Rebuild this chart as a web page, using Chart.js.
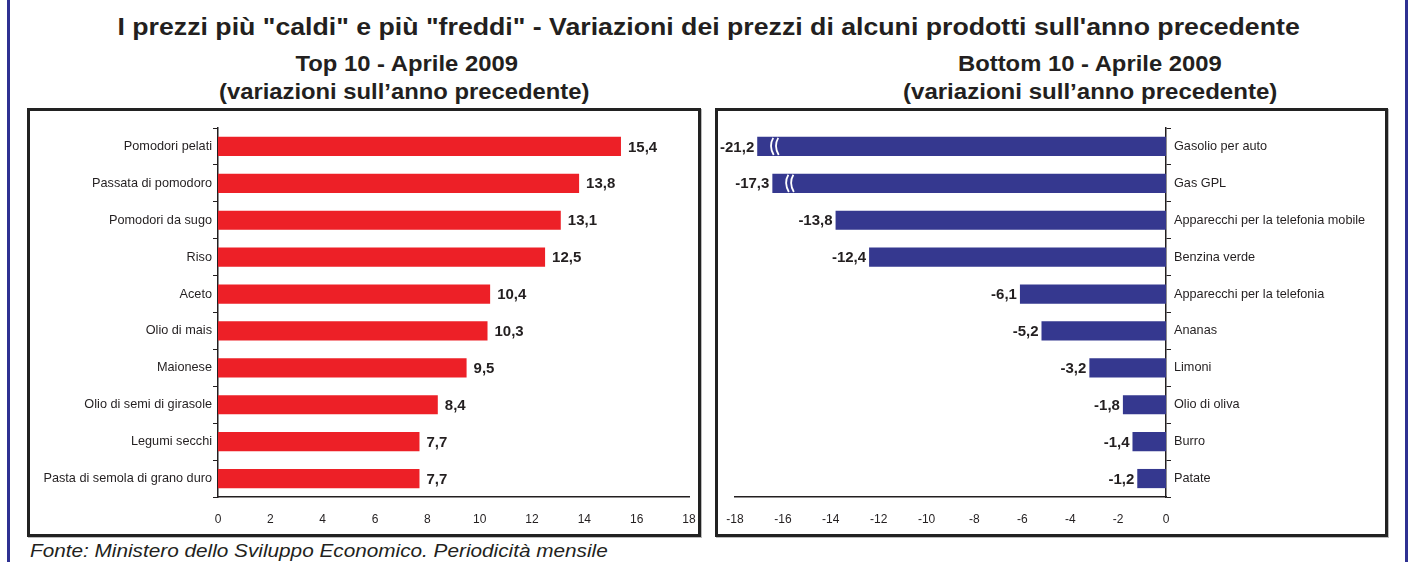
<!DOCTYPE html>
<html><head><meta charset="utf-8">
<script src="https://cdn.jsdelivr.net/npm/chart.js@4.4.0/dist/chart.umd.min.js"></script>
<style>
html,body{margin:0;padding:0;background:#fff;}
body{width:1409px;height:562px;position:relative;overflow:hidden;font-family:"Liberation Sans",Arial,sans-serif;color:#231f20;}
.frame{position:absolute;top:0;bottom:0;width:3px;background:#2e3192;}
.txt{position:absolute;white-space:nowrap;line-height:1;font-weight:bold;}
.box{position:absolute;top:108px;height:429px;border:3px solid #222;box-sizing:border-box;box-shadow:1px 1px 0 #bbb;}
.holder{position:absolute;}
</style></head>
<body>
<div class="frame" style="left:7px"></div>
<div class="frame" style="left:1405px"></div>

<div class="txt" data-cx="708" data-w="1182" style="top:16px;font-size:23.5px">I prezzi più "caldi" e più "freddi" - Variazioni dei prezzi di alcuni prodotti sull'anno precedente</div>
<div class="txt" data-cx="406" data-w="222" style="top:53px;font-size:22px">Top 10 - Aprile 2009</div>
<div class="txt" data-cx="404" data-w="370" style="top:81px;font-size:22px">(variazioni sull’anno precedente)</div>
<div class="txt" data-cx="1090" data-w="264" style="top:53px;font-size:22px">Bottom 10 - Aprile 2009</div>
<div class="txt" data-cx="1090" data-w="374" style="top:81px;font-size:22px">(variazioni sull’anno precedente)</div>
<div class="txt" data-left="30" data-w="578" style="top:542px;font-size:18.6px;font-weight:normal;font-style:italic">Fonte: Ministero dello Sviluppo Economico. Periodicità mensile</div>

<div class="box" style="left:27px;width:674px"></div>
<div class="box" style="left:715px;width:673px"></div>
<div class="holder" style="left:30px;top:111px;width:668px;height:423px"><canvas id="top10" width="668" height="423"></canvas></div>
<div class="holder" style="left:718px;top:111px;width:667px;height:423px"><canvas id="bottom10" width="667" height="423"></canvas></div>

<script>
// ---- data ----
const topCategories = ["Pomodori pelati","Passata di pomodoro","Pomodori da sugo","Riso","Aceto","Olio di mais","Maionese","Olio di semi di girasole","Legumi secchi","Pasta di semola di grano duro"];
const topValues = [15.4, 13.8, 13.1, 12.5, 10.4, 10.3, 9.5, 8.4, 7.7, 7.7];
const bottomCategories = ["Gasolio per auto","Gas GPL","Apparecchi per la telefonia mobile","Benzina verde","Apparecchi per la telefonia","Ananas","Limoni","Olio di oliva","Burro","Patate"];
const bottomValues = [-21.2, -17.3, -13.8, -12.4, -6.1, -5.2, -3.2, -1.8, -1.4, -1.2];
const topTicks = [0, 18, 2];      // min, max, step
const bottomTicks = [-18, 0, 2];  // min, max, step
// axis break on the Bottom 10 chart: bars beyond the break are drawn shortened
const breakAt = -15.7, breakSqueeze = 0.585;
function onBrokenAxis(v){ return v < breakAt ? breakAt - breakSqueeze*Math.sqrt(breakAt - v) : v; }

// ---- style ----
const RED = '#ed2027', BLUE = '#35388f', INK = '#231f20';
const FAMILY = '"Liberation Sans", Arial, sans-serif';
Chart.defaults.font.family = FAMILY;
Chart.defaults.color = INK;

// fit HTML texts
document.querySelectorAll('.txt').forEach(el=>{
  const w = el.offsetWidth, s = (+el.dataset.w)/w;
  if (el.dataset.cx){ el.style.left = (+el.dataset.cx - w/2)+'px'; el.style.transformOrigin='center center'; }
  else { el.style.left = el.dataset.left+'px'; el.style.transformOrigin='left center'; }
  el.style.transform = 'scaleX('+s+')';
});

function fmt(v){ return v.toFixed(1).replace('.', ','); }

function valueLabels(values){
  return {
    id:'valueLabels',
    afterDatasetsDraw(chart){
      const ctx = chart.ctx, meta = chart.getDatasetMeta(0);
      ctx.save();
      ctx.font = 'bold 15px ' + FAMILY;
      ctx.fillStyle = INK;
      ctx.textBaseline = 'middle';
      meta.data.forEach((bar,i)=>{
        const v = values[i];
        if (v >= 0){ ctx.textAlign='left'; ctx.fillText(fmt(v), bar.x + 7, bar.y + 1); }
        else { ctx.textAlign='right'; ctx.fillText(fmt(v), bar.x - 3, bar.y + 1); }
      });
      ctx.restore();
    }
  };
}

const breakMarks = {
  id:'breakMarks',
  afterDatasetsDraw(chart){
    const ctx = chart.ctx, meta = chart.getDatasetMeta(0);
    ctx.save();
    ctx.strokeStyle = '#fff'; ctx.lineWidth = 1.8;
    meta.data.forEach((bar,i)=>{
      if (onBrokenAxis(bottomValues[i]) === bottomValues[i]) return;
      const top = bar.y - bar.height/2 + 1, bot = bar.y + bar.height/2 - 1;
      [14.5, 19.5].forEach(dx=>{
        const x = bar.x + dx;
        ctx.beginPath();
        ctx.moveTo(x + 1.5, top);
        ctx.bezierCurveTo(x - 2.5, top + (bot-top)*0.4, x - 1, bot - (bot-top)*0.3, x + 2, bot);
        ctx.stroke();
      });
    });
    ctx.restore();
  }
};

function axisCommon(){
  return { color: INK, width: 1.5, display: true };
}
function fixX(s){ s.height = 37; s.paddingLeft = 0; s.paddingRight = 0; }

new Chart(document.getElementById('top10'), {
  type:'bar',
  data:{ labels: topCategories, datasets:[{ data: topValues, backgroundColor: RED, categoryPercentage:1, barPercentage:0.52 }] },
  options:{
    indexAxis:'y', responsive:false, animation:false, devicePixelRatio:1,
    layout:{ padding:{ top:17, right:9, left:0, bottom:0 } },
    plugins:{ legend:{display:false}, tooltip:{enabled:false} },
    scales:{
      x:{ min: topTicks[0], max: topTicks[1], ticks:{ stepSize: topTicks[2], font:{size:12}, color:INK, padding:15, maxRotation:0 },
          grid:{ display:false, drawTicks:false }, border: axisCommon(), afterFit: fixX },
      y:{ ticks:{ font:{size:12.7}, color:INK, padding:1 },
          grid:{ display:true, drawOnChartArea:false, drawTicks:true, tickLength:5, color:INK, lineWidth:1, offset:true },
          border: axisCommon(), afterFit(s){ s.width = 188; s.paddingTop = 0; s.paddingBottom = 0; } }
    }
  },
  plugins:[ valueLabels(topValues) ]
});

new Chart(document.getElementById('bottom10'), {
  type:'bar',
  data:{ labels: bottomCategories, datasets:[{ data: bottomValues.map(onBrokenAxis), backgroundColor: BLUE, categoryPercentage:1, barPercentage:0.52 }] },
  options:{
    indexAxis:'y', responsive:false, animation:false, devicePixelRatio:1,
    layout:{ padding:{ top:17, right:0, left:17, bottom:0 } },
    plugins:{ legend:{display:false}, tooltip:{enabled:false} },
    scales:{
      x:{ min: bottomTicks[0], max: bottomTicks[1], ticks:{ stepSize: bottomTicks[2], font:{size:12}, color:INK, padding:15, maxRotation:0 },
          grid:{ display:false, drawTicks:false }, border: axisCommon(), afterFit: fixX },
      y:{ position:'right', ticks:{ font:{size:12.7}, color:INK, padding:3 },
          grid:{ display:true, drawOnChartArea:false, drawTicks:true, tickLength:5, color:INK, lineWidth:1, offset:true },
          border: axisCommon(), afterFit(s){ s.width = 219; s.paddingTop = 0; s.paddingBottom = 0; } }
    }
  },
  plugins:[ breakMarks, valueLabels(bottomValues) ]
});
</script>
</body></html>
